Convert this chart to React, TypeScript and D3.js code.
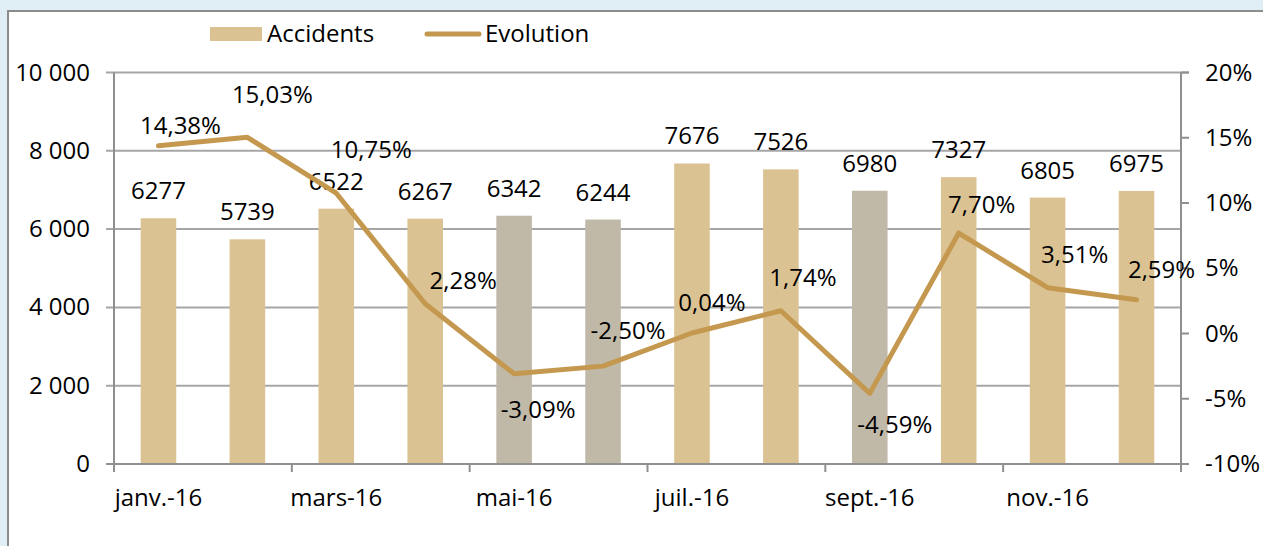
import React from "react";
import * as d3 from "d3";

const months = [
  "janv.-16", "févr.-16", "mars-16", "avr.-16", "mai-16", "juin-16",
  "juil.-16", "août-16", "sept.-16", "oct.-16", "nov.-16", "déc.-16",
];
const accidents = [6277, 5739, 6522, 6267, 6342, 6244, 7676, 7526, 6980, 7327, 6805, 6975];
const evolution = [14.38, 15.03, 10.75, 2.28, -3.09, -2.5, 0.04, 1.74, -4.59, 7.7, 3.51, 2.59];
const leftTicks = [0, 2000, 4000, 6000, 8000, 10000];
const rightTicks = [-10, -5, 0, 5, 10, 15, 20];
const greyMonths = ["mai-16", "juin-16", "sept.-16"];
// where each evolution label sits relative to its point
const evoLabelShift = [
  [22, -20], [25, -42], [35, -43], [38, -23], [24, 36], [25, -35],
  [20, -30], [22, -33], [25, 32], [23, -28], [27, -33], [25, -30],
];

const W = 1263;
const H = 546;
const FONT = "'Open Sans', sans-serif";
const FS = 24;

const fr = d3.formatLocale({
  decimal: ",",
  thousands: " ",
  grouping: [3],
  currency: ["", " €"],
  minus: "-",
});
const fmtThousands = fr.format(",.0f");
const fmtPct = fr.format(".2f");

export default function App() {
  const left = 114;
  const right = 1181;
  const top = 72.5;
  const bottom = 464;

  const x = d3.scaleBand<string>().domain(months).range([left, right]).paddingInner(0.6).paddingOuter(0.3);
  const y = d3.scaleLinear().domain([0, 10000]).range([bottom, top]);
  const y2 = d3.scaleLinear().domain([-10, 20]).range([bottom, top]);
  const bw = x.bandwidth();
  const step = x.step();
  const cx = (m: string) => (x(m) as number) + bw / 2;

  const line = d3
    .line<number>()
    .x((_, i) => cx(months[i]))
    .y((d) => y2(d));

  const tan = "#dbc293";
  const grey = "#c0b9a8";
  const gold = "#c4994f";
  const gridC = "#a6a6a6";
  const axisC = "#8f8f8f";

  const xTicks = d3.range(0, months.length + 1, 2).map((k) => left + k * step);

  return (
    <div style={{ position: "absolute", left: 0, top: 0 }}>
      <svg width={W} height={H} style={{ display: "block", fontFamily: FONT }}>
        <rect x={0} y={0} width={W} height={H} fill="#e0eef6" />
        <rect x={8} y={11} width={W + 10} height={H + 10} fill="#ffffff" stroke="#8c8c8c" strokeWidth={2} />

        {/* gridlines */}
        {leftTicks.map((t) => (
          <line key={"g" + t} x1={left - 8} x2={t === 10000 ? right + 8 : right} y1={y(t)} y2={y(t)} stroke={gridC} strokeWidth={2} />
        ))}

        {/* bars */}
        {months.map((m, i) => (
          <rect
            key={"b" + m}
            x={x(m)}
            y={y(accidents[i])}
            width={bw}
            height={bottom - y(accidents[i])}
            fill={greyMonths.includes(m) ? grey : tan}
          />
        ))}

        {/* axes */}
        <line x1={left} x2={left} y1={top} y2={bottom} stroke={axisC} strokeWidth={2} />
        <line x1={right} x2={right} y1={top} y2={bottom} stroke={axisC} strokeWidth={2} />
        <line x1={left - 8} x2={right + 8} y1={bottom} y2={bottom} stroke={axisC} strokeWidth={2} />
        {rightTicks.map((t) => (
          <line key={"rt" + t} x1={right} x2={right + 8} y1={y2(t)} y2={y2(t)} stroke={axisC} strokeWidth={2} />
        ))}
        {xTicks.map((tx) => (
          <line key={"xt" + tx} x1={tx} x2={tx} y1={bottom} y2={bottom + 8} stroke={axisC} strokeWidth={2} />
        ))}

        {/* axis labels */}
        {leftTicks.map((t) => (
          <text key={"lt" + t} x={90} y={y(t) + 8} textAnchor="end" fontSize={FS} fill="#000">
            {fmtThousands(t)}
          </text>
        ))}
        {rightTicks.map((t) => (
          <text key={"rl" + t} x={1205} y={y2(t) + 8} textAnchor="start" fontSize={FS} fill="#000">
            {t + "%"}
          </text>
        ))}
        {months.map((m, i) =>
          i % 2 === 0 ? (
            <text key={"xl" + m} x={cx(m)} y={506} textAnchor="middle" fontSize={FS} fill="#000">
              {m}
            </text>
          ) : null
        )}

        {/* bar value labels */}
        {months.map((m, i) => (
          <text key={"bl" + m} x={cx(m)} y={y(accidents[i]) - 19} textAnchor="middle" fontSize={FS} fill="#000">
            {accidents[i]}
          </text>
        ))}

        {/* evolution line */}
        <path d={line(evolution) || ""} fill="none" stroke={gold} strokeWidth={5} strokeLinejoin="round" strokeLinecap="round" />

        {months.map((m, i) => (
          <text
            key={"el" + m}
            x={cx(m) + evoLabelShift[i][0]}
            y={y2(evolution[i]) + evoLabelShift[i][1] + 8}
            textAnchor="middle"
            fontSize={FS}
            fill="#000"
          >
            {fmtPct(evolution[i]) + "%"}
          </text>
        ))}

        {/* legend */}
        <rect x={210} y={27} width={52} height={14} fill={tan} />
        <text x={267} y={42} fontSize={FS} fill="#000">Accidents</text>
        <line x1={427} x2={479} y1={34} y2={34} stroke={gold} strokeWidth={5} strokeLinecap="round" />
        <text x={485} y={42} fontSize={FS} fill="#000">Evolution</text>
      </svg>
    </div>
  );
}
